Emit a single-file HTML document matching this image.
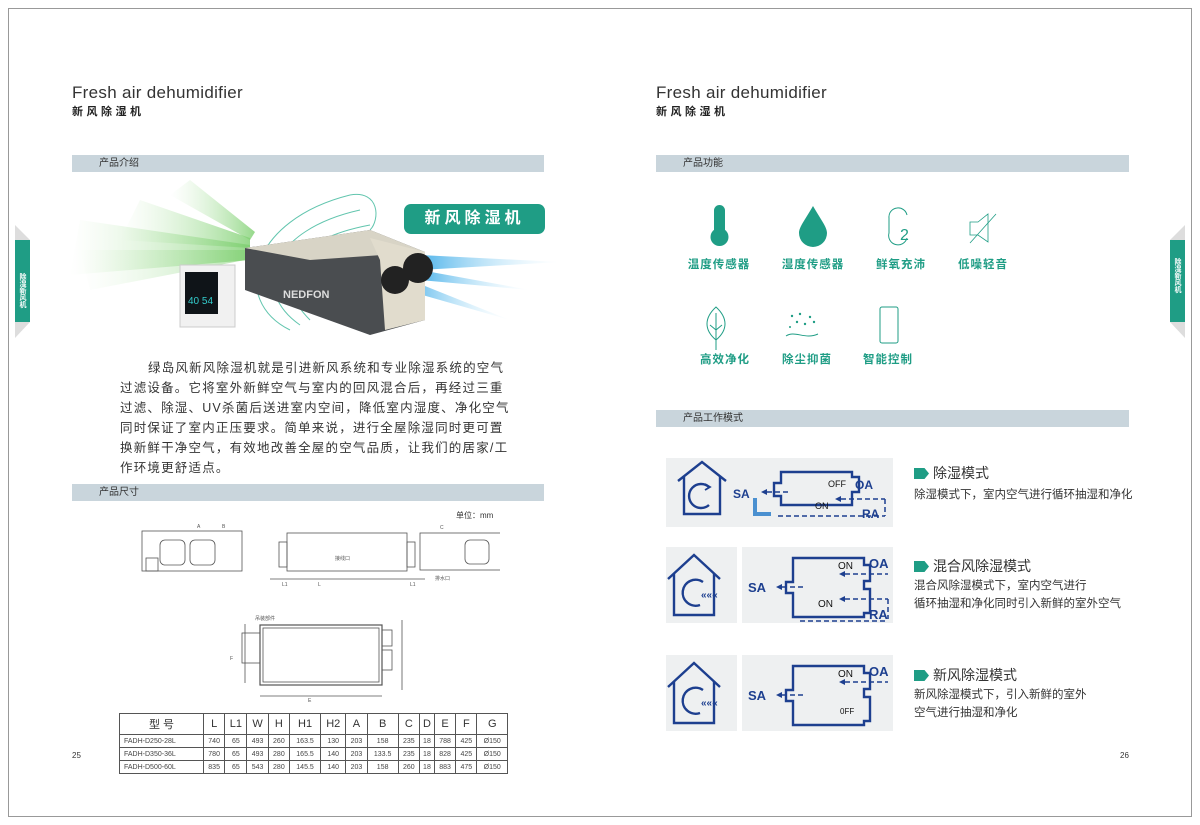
<!DOCTYPE html>
<html><head><meta charset="utf-8"><style>
*{margin:0;padding:0;box-sizing:border-box}
body{width:1200px;height:825px;background:#fff;position:relative;overflow:hidden;font-family:"Liberation Sans","Noto Sans CJK SC",sans-serif;color:#333}
.a{position:absolute}
.frame{left:8px;top:8px;width:1184px;height:809px;border:1px solid #999}
.t1{font-size:17px;color:#333;font-weight:300;letter-spacing:.3px}
.t2{font-size:11px;letter-spacing:3.5px;color:#222;font-weight:bold}
.bar{height:17px;background:#c9d5dc;font-size:10px;line-height:17px;padding-left:27px;color:#333}
.tc{font-size:11.5px;color:#1f9d85;font-weight:bold;text-align:center;width:80px;letter-spacing:1px}
.body{font-size:12.5px;line-height:20px;color:#333;letter-spacing:1.2px}
table{border-collapse:collapse;font-size:7px;color:#444}
td{border:1px solid #555;text-align:center;height:13px}
tr.h td{font-size:11px;height:21px;color:#333}
.mt{font-size:14px;color:#333}
.md{font-size:11.5px;color:#333;line-height:18px}
.tag{width:15px;height:11px;background:#1f9d85;clip-path:polygon(0 0,70% 0,100% 50%,70% 100%,0 100%);display:inline-block;margin-right:4px;vertical-align:-1px}
.panel{background:#eef0f1}
</style></head><body>
<div class="a frame"></div>

<!-- side tabs -->
<div class="a" style="left:15px;top:225px;width:15px;height:15px;background:#ddd;clip-path:polygon(0 0,100% 100%,0 100%)"></div>
<div class="a" style="left:15px;top:240px;width:15px;height:82px;background:#1f9d85;color:#fff;font-size:7px;writing-mode:vertical-rl;text-align:center;line-height:15px;padding-top:18px;font-weight:bold">除湿新风机</div>
<div class="a" style="left:15px;top:322px;width:15px;height:16px;background:#ddd;clip-path:polygon(0 0,100% 0,0 100%)"></div>
<div class="a" style="left:1170px;top:225px;width:15px;height:15px;background:#ddd;clip-path:polygon(100% 0,100% 100%,0 100%)"></div>
<div class="a" style="left:1170px;top:240px;width:15px;height:82px;background:#1f9d85;color:#fff;font-size:7px;writing-mode:vertical-rl;line-height:15px;padding-top:18px;font-weight:bold">除湿新风机</div>
<div class="a" style="left:1170px;top:322px;width:15px;height:16px;background:#ddd;clip-path:polygon(100% 0,0 0,100% 100%)"></div>

<!-- left headers -->
<div class="a t1" style="left:72px;top:83px">Fresh air dehumidifier</div>
<div class="a t2" style="left:72px;top:103px">新风除湿机</div>
<div class="a bar" style="left:72px;top:155px;width:472px">产品介绍</div>

<!-- hero -->
<svg class="a" style="left:60px;top:180px" width="520" height="160" viewBox="0 0 520 160">
<defs>
<linearGradient id="g1" x1="1" y1="0" x2="0" y2="0"><stop offset="0" stop-color="#7ccf6e" stop-opacity=".8"/><stop offset="1" stop-color="#c8ecc0" stop-opacity="0"/></linearGradient>
<linearGradient id="b1" x1="0" y1="0" x2="1" y2="0"><stop offset="0" stop-color="#4fb3ea"/><stop offset="1" stop-color="#cfeefc" stop-opacity="0"/></linearGradient>
</defs>
<path d="M20 40 L190 65 L190 80 L10 95Z" fill="url(#g1)"/>
<path d="M80 20 L190 58 L190 68 L60 60Z" fill="url(#g1)"/>
<path d="M130 0 L195 52 L190 60 L110 15Z" fill="url(#g1)"/>
<path d="M20 70 L185 70 L185 80 L30 110Z" fill="url(#g1)" opacity=".7"/>
<path d="M360 75 L500 82 L360 90Z" fill="url(#b1)"/>
<path d="M360 90 L470 110 L360 100Z" fill="url(#b1)"/>
<path d="M350 100 L450 140 L345 110Z" fill="url(#b1)"/>
<g fill="none" stroke="#3bb79a" stroke-width="1" opacity=".8">
<path d="M230 150 C170 120 190 40 290 15"/><path d="M240 145 C190 110 210 50 300 30"/><path d="M250 140 C210 100 230 60 310 45"/><path d="M290 15 C320 10 320 40 310 50"/>
</g>
<polygon points="185,68 310,50 365,72 365,140 310,155 185,110" fill="#4a4d50"/>
<polygon points="185,68 310,50 365,72 250,80" fill="#d8d4c6"/>
<polygon points="310,58 365,72 365,140 325,150 320,80" fill="#e1dccd"/>
<circle cx="335" cy="100" r="14" fill="#222"/><circle cx="358" cy="88" r="15" fill="#222"/>
<text x="223" y="118" font-size="11" font-weight="bold" fill="#ddd" font-family="Liberation Sans">NEDFON</text>
<rect x="120" y="85" width="55" height="62" fill="#f1f1f1" stroke="#ccc"/>
<rect x="125" y="92" width="33" height="42" fill="#0f1418"/>
<text x="128" y="124" font-size="10" fill="#3cc" font-family="Liberation Sans">40 54</text>
</svg>
<div class="a" style="left:404px;top:204px;width:141px;height:30px;background:#1f9d85;border-radius:7px;color:#fff;font-size:16px;font-weight:bold;letter-spacing:4px;text-align:center;line-height:30px">新风除湿机</div>

<div class="a body" style="left:120px;top:358px;width:392px;text-indent:28px">绿岛风新风除湿机就是引进新风系统和专业除湿系统的空气过滤设备。它将室外新鲜空气与室内的回风混合后，再经过三重过滤、除湿、UV杀菌后送进室内空间，降低室内湿度、净化空气同时保证了室内正压要求。简单来说，进行全屋除湿同时更可置换新鲜干净空气，有效地改善全屋的空气品质，让我们的居家/工作环境更舒适点。</div>

<div class="a bar" style="left:72px;top:484px;width:472px">产品尺寸</div>
<div class="a" style="left:456px;top:510px;font-size:8px;color:#333">单位：mm</div>

<!-- drawings -->
<svg class="a" style="left:130px;top:520px" width="370" height="185" viewBox="0 0 370 185" fill="none" stroke="#555" stroke-width=".8">
<rect x="12" y="11" width="100" height="40"/><rect x="30" y="20" width="25" height="25" rx="5"/><rect x="60" y="20" width="25" height="25" rx="5"/><rect x="16" y="38" width="12" height="13"/>
<rect x="157" y="13" width="120" height="38"/><rect x="149" y="22" width="8" height="25"/><rect x="277" y="22" width="8" height="25"/>
<line x1="140" y1="59" x2="295" y2="59"/>
<rect x="302" y="13" width="87" height="37" transform="translate(-12 0)"/><rect x="335" y="20" width="24" height="24" rx="5"/>
<rect x="130" y="105" width="122" height="60" stroke-width="1.2"/><rect x="133" y="108" width="116" height="54"/>
<rect x="112" y="113" width="18" height="30"/><rect x="252" y="110" width="10" height="16"/><rect x="252" y="130" width="10" height="20"/>
<line x1="130" y1="176" x2="252" y2="176"/><line x1="115" y1="104" x2="115" y2="163"/><line x1="272" y1="100" x2="272" y2="170"/>
<g fill="#555" stroke="none" font-size="5" font-family="Liberation Sans"><text x="67" y="8">A</text><text x="92" y="8">B</text><text x="205" y="40">接线口</text><text x="188" y="66">L</text><text x="152" y="66">L1</text><text x="280" y="66">L1</text><text x="178" y="182">E</text><text x="100" y="140">F</text><text x="310" y="9">C</text><text x="125" y="100">吊装部件</text><text x="305" y="60">排水口</text></g>
</svg>

<table class="a" style="left:119px;top:713px;width:389px">
<tr class="h"><td style="width:84px">型 号</td><td>L</td><td>L1</td><td>W</td><td>H</td><td>H1</td><td>H2</td><td>A</td><td>B</td><td>C</td><td>D</td><td>E</td><td>F</td><td>G</td></tr>
<tr><td style="text-align:left;padding-left:4px">FADH-D250-28L</td><td>740</td><td>65</td><td>493</td><td>260</td><td>163.5</td><td>130</td><td>203</td><td>158</td><td>235</td><td>18</td><td>788</td><td>425</td><td>Ø150</td></tr>
<tr><td style="text-align:left;padding-left:4px">FADH-D350-36L</td><td>780</td><td>65</td><td>493</td><td>280</td><td>165.5</td><td>140</td><td>203</td><td>133.5</td><td>235</td><td>18</td><td>828</td><td>425</td><td>Ø150</td></tr>
<tr><td style="text-align:left;padding-left:4px">FADH-D500-60L</td><td>835</td><td>65</td><td>543</td><td>280</td><td>145.5</td><td>140</td><td>203</td><td>158</td><td>260</td><td>18</td><td>883</td><td>475</td><td>Ø150</td></tr>
</table>
<div class="a" style="left:72px;top:751px;font-size:8px">25</div>

<!-- right page -->
<div class="a t1" style="left:656px;top:83px">Fresh air dehumidifier</div>
<div class="a t2" style="left:656px;top:103px">新风除湿机</div>
<div class="a bar" style="left:656px;top:155px;width:473px">产品功能</div>

<svg class="a" style="left:660px;top:190px" width="380" height="180" viewBox="0 0 380 180">
<g fill="#1f9d85"><rect x="54" y="15" width="11" height="38" rx="5.5"/><circle cx="59.5" cy="47" r="9"/>
<path d="M153 16 C145 30 139 37 139 43 A14 14 0 0 0 167 43 C167 37 161 30 153 16Z"/></g>
<g fill="none" stroke="#1f9d85" stroke-width="1"><path d="M237 18 A9 9 0 0 1 247 25 M237 18 A9 9 0 0 0 229 28 L229 43 A9 9 0 0 0 247 48"/>
<path d="M310 32 L318 32 L328 24 L328 52 L318 45 L310 45Z" stroke-width=".8"/><line x1="310" y1="53" x2="336" y2="24" stroke-width=".8"/>
<path d="M56 117 C44 128 44 140 56 150 C68 140 68 128 56 117Z M56 123 L56 160 M50 135 L56 140 L62 135"/>
<path d="M126 146 C135 140 145 150 158 144"/>
<rect x="220" y="117" width="18" height="36" rx="2"/></g>
<g fill="#1f9d85"><text x="240" y="50" font-size="16" font-family="Liberation Sans">2</text>
<circle cx="132" cy="126" r="1.2"/><circle cx="140" cy="124" r="1.2"/><circle cx="150" cy="127" r="1.2"/><circle cx="137" cy="132" r="1.2"/><circle cx="145" cy="134" r="1.2"/><circle cx="154" cy="132" r="1.2"/><circle cx="130" cy="137" r="1"/></g>
</svg>
<div class="a tc" style="left:679px;top:256px">温度传感器</div>
<div class="a tc" style="left:773px;top:256px">湿度传感器</div>
<div class="a tc" style="left:861px;top:256px">鲜氧充沛</div>
<div class="a tc" style="left:943px;top:256px">低噪轻音</div>
<div class="a tc" style="left:685px;top:351px">高效净化</div>
<div class="a tc" style="left:767px;top:351px">除尘抑菌</div>
<div class="a tc" style="left:848px;top:351px">智能控制</div>

<div class="a bar" style="left:656px;top:410px;width:473px">产品工作模式</div>

<!-- mode 1 -->
<div class="a panel" style="left:666px;top:458px;width:227px;height:69px"></div>
<svg class="a" style="left:666px;top:458px" width="227" height="69" viewBox="0 0 227 69" fill="none" stroke="#1d3f8f" stroke-width="2.4">
<path d="M12 23 L36 4 L60 23 M18 18 L18 56 L54 56 L54 18"/><path d="M43 29 A12 12 0 1 0 43 47"/><path d="M39 26 l5 3 -5 3" stroke-width="1.8"/>
<path d="M115 14 L186 14 L186 19 L193 19 L193 34 L186 34 L186 47 L115 47 L115 38 L108 38 L108 25 L115 25Z"/>
<g stroke-dasharray="5 3" stroke-width="1.5"><line x1="101" y1="34" x2="125" y2="34"/><line x1="175" y1="41" x2="219" y2="41"/><line x1="219" y1="41" x2="219" y2="58"/><line x1="112" y1="58" x2="219" y2="58"/></g>
<path d="M89 40 L89 56 L105 56" stroke="#4a90d0" stroke-width="4"/>
<g fill="#1d3f8f" stroke="none" font-family="Liberation Sans" font-weight="bold"><text x="67" y="40" font-size="12">SA</text><text x="189" y="31" font-size="12">OA</text><text x="196" y="60" font-size="12">RA</text>
<text x="162" y="29" font-size="9" font-weight="normal" fill="#111">OFF</text><text x="149" y="51" font-size="9" font-weight="normal" fill="#111">ON</text>
<path d="M95 34 l6 -3 v6z"/><path d="M169 41 l6 -3 v6z"/></g>
</svg>
<div class="a mt" style="left:914px;top:463px"><span class="tag"></span>除湿模式</div>
<div class="a md" style="left:914px;top:486px">除湿模式下，室内空气进行循环抽湿和净化</div>

<!-- mode 2 & 3 -->
<div class="a panel" style="left:666px;top:547px;width:71px;height:76px"></div>
<div class="a panel" style="left:742px;top:547px;width:151px;height:76px"></div>
<div class="a panel" style="left:666px;top:655px;width:71px;height:76px"></div>
<div class="a panel" style="left:742px;top:655px;width:151px;height:76px"></div>
<svg class="a" style="left:666px;top:547px" width="227" height="190" viewBox="0 0 227 190" fill="none" stroke="#1d3f8f" stroke-width="2.4">
<g id="house"><path d="M2 32 L28 8 L54 32 M8 27 L8 68 L48 68 L48 27"/><path d="M37 35 A13 13 0 1 0 34 58"/><text x="35" y="51" font-size="10" fill="#1d3f8f" stroke="none" font-weight="bold" font-family="Liberation Sans">«««</text></g>
<path d="M127 11 L198 11 L198 18 L204 18 L204 34 L198 34 L198 42 L204 42 L204 66 L198 66 L198 70 L127 70 L127 46 L120 46 L120 35 L127 35Z"/>
<g stroke-dasharray="5 3" stroke-width="1.5"><line x1="116" y1="40" x2="140" y2="40"/><line x1="179" y1="27" x2="222" y2="27"/><line x1="179" y1="52" x2="222" y2="52"/><line x1="222" y1="52" x2="222" y2="72"/><line x1="134" y1="74" x2="222" y2="74"/></g>
<g fill="#1d3f8f" stroke="none" font-family="Liberation Sans" font-weight="bold"><text x="82" y="45" font-size="13">SA</text><text x="203" y="21" font-size="13">OA</text><text x="203" y="72" font-size="13">RA</text>
<text x="172" y="22" font-size="10" font-weight="normal" fill="#111">ON</text><text x="152" y="60" font-size="10" font-weight="normal" fill="#111">ON</text>
<path d="M110 40 l6 -3 v6z"/><path d="M173 27 l6 -3 v6z"/><path d="M173 52 l6 -3 v6z"/></g>
<g transform="translate(0 108)">
<use href="#house"/>
<path d="M127 11 L198 11 L198 18 L204 18 L204 34 L198 34 L198 42 L204 42 L204 66 L198 66 L198 70 L127 70 L127 46 L120 46 L120 35 L127 35Z"/>
<g stroke-dasharray="5 3" stroke-width="1.5"><line x1="116" y1="40" x2="140" y2="40"/><line x1="179" y1="27" x2="222" y2="27"/></g>
<g fill="#1d3f8f" stroke="none" font-family="Liberation Sans" font-weight="bold"><text x="82" y="45" font-size="13">SA</text><text x="203" y="21" font-size="13">OA</text>
<text x="172" y="22" font-size="10" font-weight="normal" fill="#111">ON</text><text x="174" y="59" font-size="8" font-weight="normal" fill="#111">0FF</text>
<path d="M110 40 l6 -3 v6z"/><path d="M173 27 l6 -3 v6z"/></g></g>
</svg>
<div class="a mt" style="left:914px;top:556px"><span class="tag"></span>混合风除湿模式</div>
<div class="a md" style="left:914px;top:577px">混合风除湿模式下，室内空气进行<br>循环抽湿和净化同时引入新鲜的室外空气</div>
<div class="a mt" style="left:914px;top:665px"><span class="tag"></span>新风除湿模式</div>
<div class="a md" style="left:914px;top:686px">新风除湿模式下，引入新鲜的室外<br>空气进行抽湿和净化</div>
<div class="a" style="left:1120px;top:751px;font-size:8px">26</div>
</body></html>
